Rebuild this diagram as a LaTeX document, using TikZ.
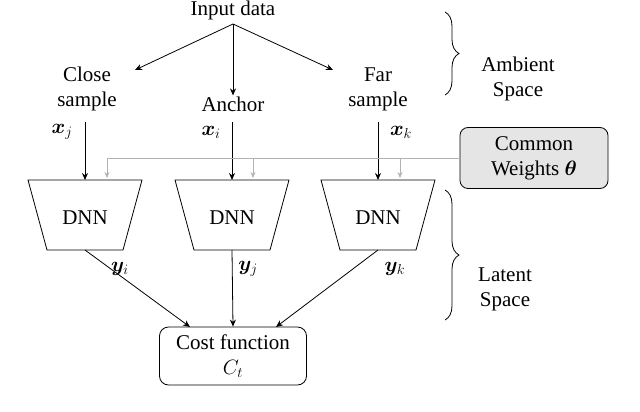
\documentclass[tikz,border=0pt]{standalone}
\usepackage{amsmath,bm}
\usepackage{fontspec}
\setmainfont{Liberation Serif}
\usetikzlibrary{decorations.pathreplacing,arrows.meta}
\begin{document}
\begin{tikzpicture}[x=1pt,y=-1pt,font=\fontsize{21}{25}\selectfont,
 arr/.style={-{Stealth[length=7pt,width=6pt]},line width=0.8pt},
 garr/.style={-{Stealth[length=6pt,width=5pt]},gray!60,line width=0.8pt},
 txt/.style={align=center,inner sep=1pt},
 brc/.style={decorate,decoration={brace,amplitude=14pt},line width=0.8pt}]
\useasboundingbox (0,0) rectangle (640,412);
\node[txt] (in) at (233,10) {Input data};
\node[txt] (close) at (87,89) {Close\\sample};
\node[txt] (anc) at (233,104) {Anchor};
\node[txt] (far) at (378,89) {Far\\sample};
\coordinate (c0) at (233,24);
\draw[arr] (c0) -- (135,70);
\draw[arr] (c0) -- (anc.north);
\draw[arr] (c0) -- (333,70);
\node[txt] (xj) at (62,132) {$\bm{x}_j$};
\node[txt] (xi) at (211,132) {$\bm{x}_i$};
\node[txt] (xk) at (401,132) {$\bm{x}_k$};
% DNNs
\foreach \n/\c in {d1/85,d2/232,d3/378}{
 \draw[line width=0.8pt] (\c-57,180) -- (\c+57,180) -- (\c+38,250) -- (\c-38,250) -- cycle;
 \node[txt] (\n) at (\c,218) {DNN};
 \coordinate (\n t) at (\c,180);
 \coordinate (\n b) at (\c,250);
}
\draw[arr] (85,122) -- (d1t);
\draw[arr] (232,122) -- (d2t);
\draw[arr] (378,122) -- (d3t);
\node[txt,draw,rounded corners=8pt,fill=gray!20,line width=0.8pt,minimum width=148pt,minimum height=61pt] (cw) at (534,158) {Common\\Weights $\bm{\theta}$};
\coordinate (g1) at (107,158);
\coordinate (g2) at (253,158);
\coordinate (g3) at (400,158);
\draw[gray!60,line width=0.8pt] (cw.west) -- (g1);
\draw[garr] (g1) -- (107,178);
\draw[garr] (g2) -- (253,178);
\draw[garr] (g3) -- (400,178);
\node[txt] (yi) at (120,269) {$\bm{y}_i$};
\node[txt] (yj) at (248,269) {$\bm{y}_j$};
\node[txt] (yk) at (395,269) {$\bm{y}_k$};
\node[txt,draw,rounded corners=9pt,line width=0.8pt,minimum width=147pt,minimum height=58pt] (cost) at (233,356) {Cost function\\$C_t$};
\draw[arr] (d1b) -- (190,327);
\draw[arr] (d2b) -- (cost.north);
\draw[arr] (d3b) -- (276,327);
\draw[brc] (445,12) -- (445,95);
\draw[brc] (445,190) -- (445,320);
\node[txt] (amb) at (518,79) {Ambient\\Space};
\node[txt] (lat) at (505,289) {Latent\\Space};
\end{tikzpicture}
\end{document}
